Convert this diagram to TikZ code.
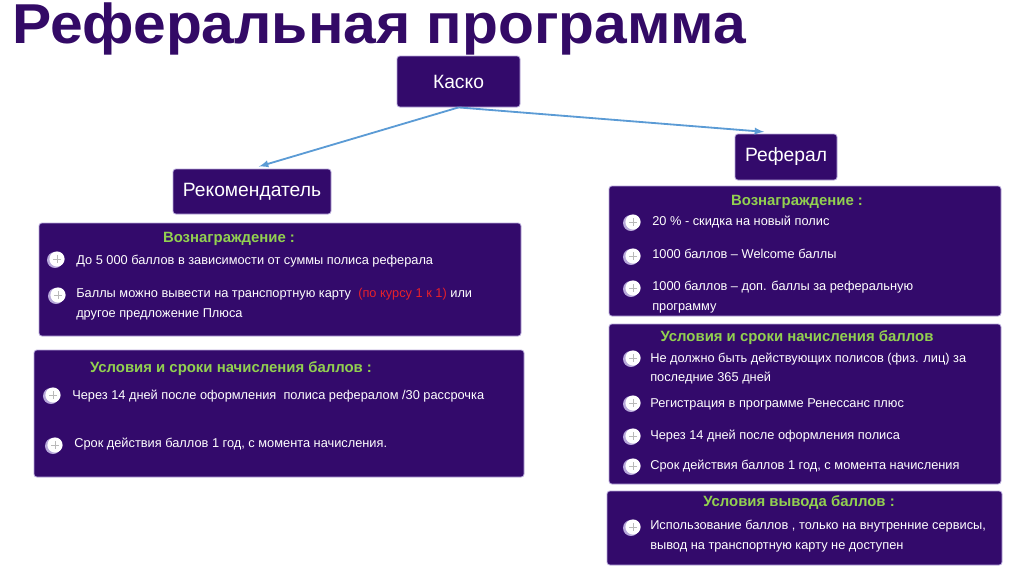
\documentclass[tikz,border=0pt]{standalone}
\usepackage{fontspec}
\setmainfont{Liberation Sans}
\usepackage{xcolor}
\usepackage{tikz}
\usetikzlibrary{arrows.meta, fit}

\definecolor{titlepurple}{HTML}{330A66}
\definecolor{boxfill}{HTML}{330A6B}
\definecolor{boxedge}{HTML}{B7A8DA}
\definecolor{hdrgreen}{HTML}{92D050}
\definecolor{redtxt}{HTML}{E8202A}
\definecolor{arrowblue}{HTML}{5B9BD5}

\begin{document}
\begin{tikzpicture}[x=0.025cm,y=-0.025cm,
  panel/.style={fill=boxfill,draw=boxedge,line width=0.6pt,rounded corners=2pt,inner sep=0pt},
  tag/.style={panel},
  tagtext/.style={text=white,font=\fontsize{13.7}{16}\selectfont},
  hdr/.style={text=hdrgreen,font=\fontsize{10.6}{12}\selectfont\bfseries,inner sep=0pt},
  item/.style={text=white,anchor=west,inner sep=0pt,align=left,
    font=\fontsize{9.1}{14.2}\selectfont},
  link/.style={draw=arrowblue,line width=1.3pt,-latex}]
\useasboundingbox (0,0) rectangle (1024,574);
% Title
\node[anchor=base west,inner sep=0pt,text=titlepurple,
  font=\fontsize{40}{42}\selectfont\bfseries] (title) at (12,43)
  {\scalebox{1.045}[1]{Реферальная программа}};
% Top nodes
\node[tag,fit={(397,56) (520,107)}] (kasko) {};
\node[tagtext] (kaskotxt) at (kasko.center) {Каско};
\node[tag,fit={(173,169) (331,214)}] (rekom) {};
\node[tagtext] (rekomtxt) at (rekom.center) {Рекомендатель};
\node[tag,fit={(735,134) (837,180)}] (referal) {};
\node[tagtext] (referaltxt) at (referal.center) {Реферал};
% Arrows
\draw[link,shorten >=0.18cm] (kasko.south) -- (rekom.north);
\draw[link,shorten >=0.55cm] (kasko.south) -- (referal.north);
% Panels
\node[panel,fit={(39,223) (521,336)}] (rewardL) {};
\node[panel,fit={(34,350) (524,477)}] (termsL) {};
\node[panel,fit={(609,186) (1001,316)}] (rewardR) {};
\node[panel,fit={(609,324) (1001,484)}] (termsR) {};
\node[panel,fit={(607,491) (1002,565)}] (payoutR) {};
% Bullets
\foreach \bx/\by in {57/259,58/295,53/395,55/445,633/222,633/256,633/288,
  633/358,633/403,633/436,633/466,633/527}{
  \fill[boxedge] (\bx-2,\by+1) circle(0.2cm);
  \fill[white] (\bx,\by) circle(0.19cm);
  \draw[gray!55,line width=0.5pt] (\bx-4,\by) -- (\bx+4,\by) (\bx,\by-4) -- (\bx,\by+4);
}
% Left: Рекомендатель
\node[hdr] (hdrRewardL) at (229,239) {Вознаграждение :};
\node[item] (itemL1) at (76,261) {До 5 000 баллов в зависимости от суммы полиса реферала};
\node[item] (itemL2) at (76,304) {Баллы можно вывести на транспортную карту \ \textcolor{redtxt}{(по курсу 1 к 1)} или\\другое предложение Плюса};
\node[hdr] (hdrTermsL) at (231,369) {Условия и сроки начисления баллов :};
\node[item] (itemL3) at (72,396) {Через 14 дней после оформления \ полиса рефералом /30 рассрочка};
\node[item] (itemL4) at (74,444) {Срок действия баллов 1 год, с момента начисления.};
% Right: Реферал
\node[hdr] (hdrRewardR) at (797,202) {Вознаграждение :};
\node[item] (itemR1) at (652,222) {20 \% - скидка на новый полис};
\node[item] (itemR2) at (652,254) {1000 баллов – Welcome баллы};
\node[item] (itemR3) at (652,297) {1000 баллов – доп. баллы за реферальную\\программу};
\node[hdr] (hdrTermsR) at (797,338) {Условия и сроки начисления баллов};
\node[item] (itemR4) at (650,368.5) {Не должно быть действующих полисов (физ. лиц) за\\последние 365 дней};
\node[item] (itemR5) at (650,404) {Регистрация в программе Ренессанс плюс};
\node[item] (itemR6) at (650,436) {Через 14 дней после оформления полиса};
\node[item] (itemR7) at (650,466) {Срок действия баллов 1 год, с момента начисления};
\node[hdr] (hdrPayoutR) at (799,503) {Условия вывода баллов :};
\node[item] (itemR8) at (650,536.5) {Использование баллов , только на внутренние сервисы,\\вывод на транспортную карту не доступен};
\end{tikzpicture}
\end{document}
